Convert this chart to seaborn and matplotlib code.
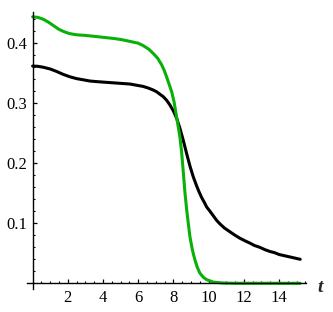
import matplotlib
matplotlib.use("Agg")
import matplotlib.pyplot as plt
import seaborn as sns
import pandas as pd
from matplotlib.ticker import MultipleLocator, FixedLocator

# ---- data ----
t_black = [0.0, 0.3, 0.6, 1.0, 1.36, 1.74, 2.12, 2.5, 2.88, 3.25, 3.64, 4.1, 4.58,
           5.05, 5.53, 5.9, 6.28, 6.6, 6.85, 7.05, 7.23, 7.42, 7.61, 7.8, 8.0,
           8.18, 8.37, 8.56, 8.75, 8.94, 9.13, 9.32, 9.46, 9.6, 9.75, 9.89, 10.05,
           10.25, 10.45, 10.64, 10.9, 11.2, 11.5, 11.78, 12.05, 12.34, 12.6, 12.9,
           13.2, 13.48, 13.75, 14.0, 14.3, 14.6, 14.9, 15.2]
v_black = [0.362, 0.3615, 0.360, 0.357, 0.353, 0.348, 0.344, 0.341, 0.339, 0.337,
           0.336, 0.335, 0.334, 0.333, 0.332, 0.330, 0.328, 0.325, 0.322, 0.319,
           0.315, 0.311, 0.305, 0.297, 0.287, 0.275, 0.258, 0.238, 0.216, 0.195,
           0.177, 0.162, 0.152, 0.143, 0.135, 0.127, 0.121, 0.113, 0.105, 0.099,
           0.092, 0.086, 0.080, 0.075, 0.071, 0.067, 0.063, 0.060, 0.056, 0.053,
           0.051, 0.048, 0.046, 0.044, 0.042, 0.040]

t_green = [0.0, 0.3, 0.6, 0.9, 1.2, 1.5, 1.8, 2.1, 2.5, 3.0, 3.64, 4.1, 4.58,
           5.05, 5.53, 6.0, 6.28, 6.6, 6.85, 7.1, 7.33, 7.47, 7.61, 7.75, 7.9,
           8.03, 8.18, 8.27, 8.37, 8.46, 8.56, 8.65, 8.75, 8.85, 8.94, 9.08, 9.22,
           9.35, 9.5, 9.7, 9.89, 10.26, 10.8, 11.5, 15.2]
v_green = [0.444, 0.443, 0.440, 0.435, 0.429, 0.423, 0.419, 0.416, 0.414, 0.413,
           0.411, 0.4095, 0.408, 0.406, 0.403, 0.400, 0.396, 0.390, 0.383, 0.375,
           0.364, 0.355, 0.344, 0.332, 0.319, 0.303, 0.277, 0.261, 0.243, 0.220,
           0.185, 0.152, 0.123, 0.098, 0.077, 0.055, 0.039, 0.027, 0.017, 0.010,
           0.006, 0.002, 0.0005, 0.0, 0.0]

x_ticks = [2, 4, 6, 8, 10, 12, 14]
y_ticks = [0.1, 0.2, 0.3, 0.4]
x_label = "t"

# ---- plotting ----
sns.set_style("white")
plt.rcParams["font.family"] = ["Liberation Serif", "DejaVu Serif"]

df = pd.concat([
    pd.DataFrame({"t": t_black, "v": v_black, "s": "black"}),
    pd.DataFrame({"t": t_green, "v": v_green, "s": "green"}),
])

fig = plt.figure(figsize=(3.33, 3.12), dpi=100)
ax = fig.add_axes([27 / 333, 23 / 312, 279 / 333, 277 / 312])

sns.lineplot(data=df, x="t", y="v", hue="s", sort=False,
             palette={"black": "#000000", "green": "#08b008"},
             linewidth=2.2, legend=False, ax=ax)

ax.set_xlim(-0.32, 15.53)
ax.set_ylim(-0.0095, 0.452)

for s in ["top", "right"]:
    ax.spines[s].set_visible(False)
ax.spines["left"].set_position(("data", 0))
ax.spines["bottom"].set_position(("data", 0))
for s in ["left", "bottom"]:
    ax.spines[s].set_linewidth(1.0)
    ax.spines[s].set_color("black")
ax.spines["left"].set_bounds(-0.0095, 0.452)
ax.spines["bottom"].set_bounds(-0.32, 15.53)

ax.xaxis.set_major_locator(FixedLocator(x_ticks))
ax.yaxis.set_major_locator(FixedLocator(y_ticks))
ax.xaxis.set_minor_locator(MultipleLocator(0.5))
ax.yaxis.set_minor_locator(MultipleLocator(0.02))
ax.set_xticklabels([str(v) for v in x_ticks])
ax.set_yticklabels([f"{v:.1f}" for v in y_ticks])

ax.tick_params(which="major", direction="in", length=3.2, width=0.9,
               colors="black", labelsize=12, bottom=True, left=True)
ax.tick_params(axis="x", which="major", pad=5)
ax.tick_params(axis="y", which="major", pad=4)
ax.tick_params(which="minor", direction="in", length=1.6, width=0.8,
               colors="black", bottom=True, left=True)

ax.set_xlabel("")
ax.set_ylabel("")
ax.grid(False)

fig.text(320.5 / 333, 1 - 291.5 / 312, x_label, ha="center", va="baseline",
         fontsize=14, fontstyle="italic", fontweight="bold")

fig.savefig("out.png", dpi=100)
